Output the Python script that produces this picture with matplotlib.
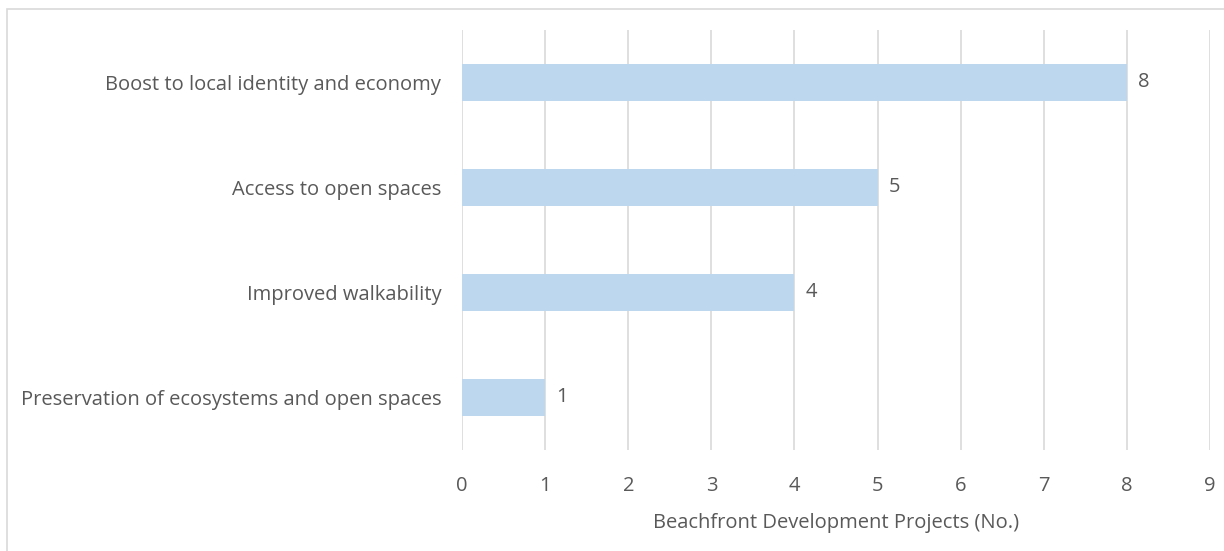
import matplotlib.pyplot as plt
from matplotlib.patches import Rectangle

categories = [
    "Boost to local identity and economy",
    "Access to open spaces",
    "Improved walkability",
    "Preservation of ecosystems and open spaces",
]
counts = [8, 5, 4, 1]
xticks = list(range(0, 10))

plt.rcParams['font.family'] = ['Open Sans', 'DejaVu Sans']
text_col = '#595959'
fs = 14.5

fig = plt.figure(figsize=(12.24, 5.51), dpi=100)
ax = fig.add_axes([0.3775, 0.1833, 0.6111, 0.7623])

# outer frame of the chart area
fig.patches.append(Rectangle((7 / 1224, -0.05), 1.1, 1 - 9 / 551 + 0.05,
                             transform=fig.transFigure, fill=False,
                             edgecolor='#d9d9d9', linewidth=1.2))

ypos = list(range(len(categories)))
ax.barh(ypos, counts, height=0.35, color='#bdd7ee', zorder=3)
for y, v in zip(ypos, counts):
    ax.text(v + 0.13, y, str(v), va='center', ha='left', fontsize=fs, color=text_col)

ax.set_xlim(0, 9)
ax.set_ylim(len(categories) - 0.5, -0.5)
ax.set_xticks(xticks)
ax.set_yticks(ypos)
ax.set_yticklabels(categories)
ax.grid(axis='x', color='#d9d9d9', linewidth=1.2, zorder=0)
for s in ax.spines.values():
    s.set_visible(False)
ax.tick_params(axis='both', length=0, labelsize=fs, colors=text_col)
ax.tick_params(axis='x', pad=19)
ax.tick_params(axis='y', pad=15)
ax.set_xlabel('Beachfront Development Projects (No.)', fontsize=fs, color=text_col, labelpad=12)

fig.savefig('out.png', dpi=100)
